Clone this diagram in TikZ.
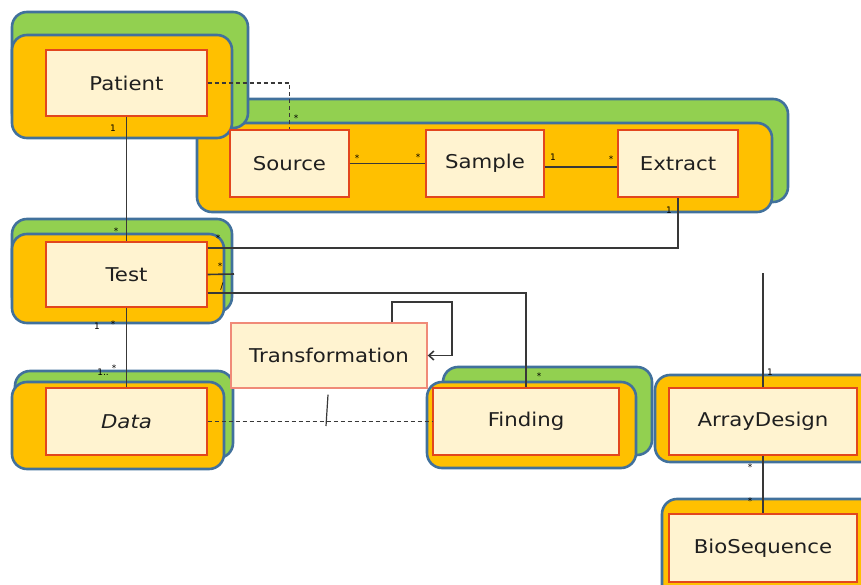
\documentclass[tikz,border=0pt]{standalone}
\usepackage{fontspec}
\setmainfont{DejaVu Sans}
\newfontfamily\boxfont[FakeStretch=1.12]{DejaVu Sans}
\usetikzlibrary{arrows.meta}
\definecolor{grpgreen}{HTML}{92D050}
\definecolor{grporange}{HTML}{FFC000}
\definecolor{grpline}{HTML}{41719C}
\definecolor{boxfill}{HTML}{FFF3D0}
\definecolor{boxline}{HTML}{E2461E}
\definecolor{tfline}{HTML}{F08A78}
\definecolor{conn}{HTML}{383838}
\begin{document}
\begin{tikzpicture}[x=1pt,y=-1pt,
  greenback/.style={draw=grpline, line width=2.6pt, fill=grpgreen, rounded corners=15pt},
  orangefront/.style={draw=grpline, line width=2.6pt, fill=grporange, rounded corners=15pt},
  classbox/.style={draw=boxline, line width=1.4pt, fill=boxfill, inner sep=0pt,
    minimum height=66pt, font=\boxfont\fontsize{19}{22}\selectfont, text=black!88},
  link/.style={draw=conn, line width=1.6pt},
  dlink/.style={link, line width=1.4pt, dash pattern=on 4pt off 3pt},
  mult/.style={font=\fontsize{9}{10}\selectfont, inner sep=0pt, text=black}
]
\useasboundingbox (0,0) rectangle (861,585);
\clip (0,0) rectangle (861,585);

% package groups: back (green) and front (orange) panels
\draw[greenback]   (215,99)  rectangle (788,202);
\draw[orangefront] (197,123) rectangle (772,212);
\draw[greenback]   (12,12)   rectangle (248,128);
\draw[orangefront] (12,35)   rectangle (232,138);
\draw[greenback]   (12,219)  rectangle (232,312);
\draw[orangefront] (12,234)  rectangle (224,323);
\draw[greenback]   (15,371)  rectangle (233,458);
\draw[orangefront] (12,382)  rectangle (224,469);
\draw[greenback]   (443,367) rectangle (652,455);
\draw[orangefront] (427,382) rectangle (636,468);
\draw[orangefront] (655,375) rectangle (880,462);
\draw[orangefront] (662,499) rectangle (880,600);

% classes
\node[classbox, minimum width=161pt] (patient) at (126.5,83) {Patient};
\node[classbox, minimum width=119pt, minimum height=67pt] (source) at (289.5,163.5) {Source};
\node[classbox, minimum width=118pt, minimum height=67pt] (sample) at (485,163.5) {Sample};
\node[classbox, minimum width=120pt, minimum height=67pt] (extract) at (678,163.5) {Extract};
\node[classbox, minimum width=161pt, minimum height=65pt] (test) at (126.5,274.5) {Test};
\node[classbox, minimum width=161pt, minimum height=67pt] (data) at (126.5,421.5) {\itshape Data};
\node[classbox, draw=tfline, minimum width=196pt, minimum height=65pt] (transformation) at (329,355.5) {Transformation};
\node[classbox, minimum width=186pt, minimum height=67pt] (finding) at (526,421.5) {Finding};
\node[classbox, minimum width=188pt, minimum height=67pt] (arraydesign) at (763,421.5) {ArrayDesign};
\node[classbox, minimum width=188pt, minimum height=68pt] (biosequence) at (763,548) {BioSequence};

% associations
\draw[link] (patient.south) -- (test.north);
\draw[dlink] (patient.east) -| (source.north);
\draw[link] (source.east) -- (sample.west);
\draw[link] ([yshift=-3.5pt]sample.east) -- ([yshift=-3.5pt]extract.west);
\draw[link] ([yshift=26.5pt]test.east) -| (extract.south);
\coordinate (stubend) at (234,274);
\draw[link] (test.east) -- (stubend);
\coordinate (adtop) at (763,273);
\draw[link] (adtop) -- (arraydesign.north);
\draw[link] ([yshift=-18.5pt]test.east) -| (finding.north);
\draw[link] (test.south) -- (data.north);
\coordinate (loop) at (452,302);
\draw[link, -{Straight Barb[length=5pt,width=9pt]}] ([xshift=63pt]transformation.north) |- (loop) |- (transformation.east);
\draw[dlink] (data.east) -- (finding.west);
\coordinate (assoc) at (326,426);
\draw[link, line width=1.2pt] ([xshift=-1pt,yshift=-6pt]transformation.south) -- (assoc);
\draw[link] (arraydesign.south) -- (biosequence.north);

% multiplicities
\node[mult] (m1) at (113,128) {1};
\node[mult] (m2) at (116,231) {*};
\node[mult] (m3) at (296,118) {*};
\node[mult] (m4) at (357,158) {*};
\node[mult] (m5) at (418,157) {*};
\node[mult] (m6) at (553,157) {1};
\node[mult] (m7) at (611,159) {*};
\node[mult] (m8) at (669,210) {1};
\node[mult] (m9) at (218,238) {*};
\node[mult] (m10) at (220,266) {*};
\node[mult] (m11) at (222,287) {/};
\node[mult] (m12) at (770,372) {1};
\node[mult] (m13) at (539,376) {*};
\node[mult] (m14) at (97,326) {1};
\node[mult] (m15) at (113,324) {*};
\node[mult] (m16) at (103,372) {1..};
\node[mult] (m17) at (114,368) {*};
\node[mult] (m18) at (750,467) {*};
\node[mult] (m19) at (750,501) {*};
\end{tikzpicture}
\end{document}
